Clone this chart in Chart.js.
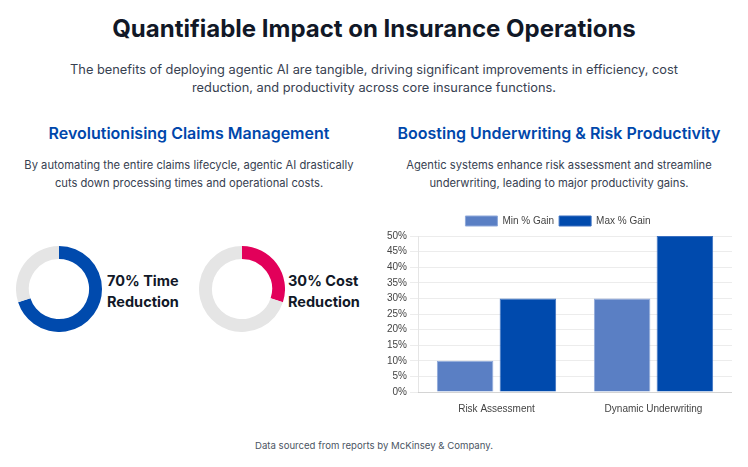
<!DOCTYPE html>
<html lang="en">
<head>
  <meta charset="UTF-8" />
  <title>Quantifiable Impact on Insurance Operations</title>
  <script src="https://cdn.jsdelivr.net/npm/chart.js"></script>
  <style>
    body { margin: 0; width: 748px; height: 467px; background: #fff; font-family: Inter, sans-serif; position: relative; overflow: hidden; }
    .abs { position: absolute; }
    h1 { position: absolute; left: 0; width: 748px; top: 14px; margin: 0; text-align: center; font-size: 24px; font-weight: 700; color: #111827; }
    .sub { left: 54px; width: 640px; top: 61px; text-align: center; font-size: 12.8px; line-height: 18px; color: #374151; }
    h2 { position: absolute; margin: 0; text-align: center; font-size: 16px; font-weight: 600; color: #0047ab; top: 123px; }
    .desc { text-align: center; font-size: 11.2px; line-height: 18px; color: #374151; top: 156px; }
    .donut-label { font-size: 14.5px; font-weight: 700; line-height: 21px; color: #111827; top: 270px; }
    .foot { left: 0; width: 748px; top: 440px; text-align: center; font-size: 9.6px; color: #4b5563; }
  </style>
</head>
<body>
  <h1>Quantifiable Impact on Insurance Operations</h1>
  <div class="abs sub">The benefits of deploying agentic AI are tangible, driving significant improvements in efficiency, cost reduction, and productivity across core insurance functions.</div>

  <h2 style="left: 12px; width: 354px;">Revolutionising Claims Management</h2>
  <div class="abs desc" style="left: 14px; width: 350px;">By automating the entire claims lifecycle, agentic AI drastically cuts down processing times and operational costs.</div>

  <h2 style="left: 382px; width: 354px;">Boosting Underwriting &amp; Risk Productivity</h2>
  <div class="abs desc" style="left: 394px; width: 330px;">Agentic systems enhance risk assessment and streamline underwriting, leading to major productivity gains.</div>

  <div class="abs" style="left: 16px; top: 246px; width: 86px; height: 86px;"><canvas id="timeChart"></canvas></div>
  <div class="abs donut-label" style="left: 107px;">70% Time<br>Reduction</div>
  <div class="abs" style="left: 199px; top: 246px; width: 86px; height: 86px;"><canvas id="costChart"></canvas></div>
  <div class="abs donut-label" style="left: 288px;">30% Cost<br>Reduction</div>

  <div class="abs" style="left: 384px; top: 211px; width: 348px; height: 207px;"><canvas id="uwChart"></canvas></div>

  <div class="abs foot">Data sourced from reports by McKinsey &amp; Company.</div>

  <script>
    // donut values (percent)
    const timeReduction = [70, 30];
    const costReduction = [30, 70];

    // underwriting bars
    const categories = ['Risk Assessment', 'Dynamic Underwriting'];
    const minGain = [10, 30];
    const maxGain = [30, 50];

    function donut(id, values, color) {
      new Chart(document.getElementById(id), {
        type: 'doughnut',
        data: {
          datasets: [{
            data: values,
            backgroundColor: [color, '#e5e5e5'],
            borderWidth: 0
          }]
        },
        options: {
          responsive: true,
          maintainAspectRatio: false,
          animation: false,
          cutout: '70%',
          plugins: { legend: { display: false }, tooltip: { enabled: false } }
        }
      });
    }

    donut('timeChart', timeReduction, '#004aad');
    donut('costChart', costReduction, '#e2005a');

    new Chart(document.getElementById('uwChart'), {
      type: 'bar',
      data: {
        labels: categories,
        datasets: [
          {
            label: 'Min % Gain',
            data: minGain,
            backgroundColor: '#5a7fc4',
            borderColor: '#8fa9da',
            borderWidth: 1
          },
          {
            label: 'Max % Gain',
            data: maxGain,
            backgroundColor: '#004aad',
            borderColor: '#3a6fc0',
            borderWidth: 1
          }
        ]
      },
      options: {
        responsive: true,
        maintainAspectRatio: false,
        animation: false,
        categoryPercentage: 0.8,
        barPercentage: 0.9,
        plugins: {
          legend: {
            labels: { boxWidth: 32, boxHeight: 10, padding: 5, font: { size: 10 }, color: '#444' }
          },
          tooltip: { enabled: false }
        },
        scales: {
          y: {
            beginAtZero: true,
            max: 50,
            ticks: { stepSize: 5, font: { size: 10 }, color: '#444', callback: (v) => v + '%' },
            grid: { color: '#ececec' }
          },
          x: {
            ticks: { font: { size: 10 }, color: '#444' },
            grid: { display: false }
          }
        }
      }
    });
  </script>
</body>
</html>
